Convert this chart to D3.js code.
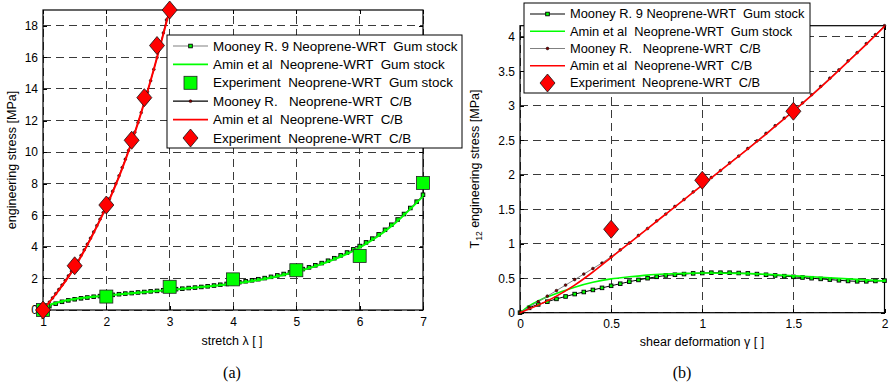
<!DOCTYPE html>
<html>
<head>
<meta charset="utf-8">
<script src="https://cdn.jsdelivr.net/npm/d3@7"></script>
<style>
  body { margin: 0; background: #fff; }
  svg { display: block; font-family: "Liberation Sans", Arial, sans-serif; }
  .grid line { stroke: #3a3a3a; stroke-dasharray: 8,5; stroke-width: 1; shape-rendering: crispEdges; }
  .tick text { font-size: 12px; fill: #000; }
  .tick line { stroke: #000; shape-rendering: crispEdges; }
  .domain { display: none; }
  .leg text { white-space: pre; }
</style>
</head>
<body>
<div id="chart"></div>
<script>
// ---- (a) uniaxial tension ----
var lamGumMR = [1.0,1.1,1.2,1.3,1.4,1.5,1.6,1.7,1.8,1.9,2.0,2.1,2.2,2.3,2.4,2.5,2.6,2.7,2.8,2.9,3.0,3.1,3.2,3.3,3.4,3.5,3.6,3.7,3.8,3.9,4.0,4.1,4.2,4.3,4.4,4.5,4.6,4.7,4.8,4.9,5.0,5.1,5.2,5.3,5.4,5.5,5.6,5.7,5.8,5.9,6.0,6.1,6.2,6.3,6.4,6.5,6.6,6.7,6.8,6.9,7.0];
var sigGumMR = [0,0.24,0.4,0.52,0.61,0.68,0.74,0.79,0.84,0.88,0.92,0.96,1.0,1.04,1.07,1.11,1.14,1.18,1.21,1.25,1.29,1.32,1.35,1.39,1.42,1.46,1.5,1.55,1.6,1.65,1.7,1.76,1.82,1.88,1.95,2.02,2.1,2.19,2.28,2.38,2.48,2.59,2.7,2.83,2.97,3.12,3.28,3.46,3.64,3.84,4.05,4.28,4.52,4.79,5.08,5.4,5.73,6.08,6.46,6.86,7.3];
var lamGumAmin = [1,1.1,1.2,1.3,1.5,1.75,2,2.5,3,3.5,4,4.5,5,5.5,6,6.5,7];
var sigGumAmin = [0,0.3,0.45,0.56,0.7,0.82,0.92,1.1,1.27,1.45,1.66,1.97,2.42,3.05,3.95,5.3,7.2];
var lamGumExp = [1,2,3,4,5,6,7];
var sigGumExp = [0,0.85,1.47,1.94,2.52,3.42,8.05];
var lamCbMR = [1.0,1.05,1.1,1.15,1.2,1.25,1.3,1.35,1.4,1.45,1.5,1.55,1.6,1.65,1.7,1.75,1.8,1.85,1.9,1.95,2.0,2.05,2.1,2.15,2.2,2.25,2.3,2.35,2.4,2.45,2.5,2.55,2.6,2.65,2.7,2.75,2.8,2.85,2.9,2.95,3.0];
var sigCbMR = [0,0.25,0.5,0.76,1.03,1.3,1.58,1.87,2.16,2.45,2.75,3.1,3.45,3.8,4.17,4.55,4.94,5.34,5.75,6.17,6.6,7.05,7.52,8.0,8.5,9.02,9.55,10.1,10.67,11.26,11.87,12.5,13.15,13.82,14.52,15.24,15.99,16.76,17.55,18.37,19.0];
var lamCbAmin = [1,1.25,1.5,1.75,2,2.25,2.5,2.75,3];
var sigCbAmin = [0,1.25,2.7,4.5,6.55,8.95,11.85,15.25,19.0];
var lamCbExp = [1,1.5,2,2.4,2.6,2.8,3];
var sigCbExp = [0,2.8,6.65,10.75,13.45,16.75,19.0];
var ticksLam = [1,2,3,4,5,6,7];
var ticksSig = [0,2,4,6,8,10,12,14,16,18];

// ---- (b) simple shear ----
var gamGumMR = [0,0.05,0.1,0.15,0.2,0.25,0.3,0.35,0.4,0.45,0.5,0.55,0.6,0.65,0.7,0.75,0.8,0.85,0.9,0.95,1.0,1.05,1.1,1.15,1.2,1.25,1.3,1.35,1.4,1.45,1.5,1.55,1.6,1.65,1.7,1.75,1.8,1.85,1.9,1.95,2.0];
var tauGumMR = [0,0.07,0.12,0.16,0.2,0.235,0.27,0.3,0.33,0.36,0.39,0.42,0.45,0.475,0.5,0.52,0.54,0.55,0.56,0.57,0.575,0.58,0.58,0.58,0.575,0.57,0.56,0.55,0.54,0.53,0.52,0.51,0.5,0.49,0.48,0.47,0.46,0.455,0.455,0.46,0.465];
var gamGumAmin = [0,0.05,0.1,0.15,0.2,0.3,0.4,0.5,0.6,0.7,0.8,0.9,1.0,1.2,1.4,1.6,1.8,2.0];
var tauGumAmin = [0,0.1,0.17,0.23,0.28,0.37,0.44,0.49,0.52,0.545,0.56,0.57,0.575,0.57,0.55,0.52,0.49,0.46];
var gamCbMR = [0,0.05,0.1,0.15,0.2,0.25,0.3,0.35,0.4,0.45,0.5,0.55,0.6,0.65,0.7,0.75,0.8,0.85,0.9,0.95,1.0,1.05,1.1,1.15,1.2,1.25,1.3,1.35,1.4,1.45,1.5,1.55,1.6,1.65,1.7,1.75,1.8,1.85,1.9,1.95,2.0];
var tauCbMR = [0,0.08,0.16,0.24,0.32,0.4,0.48,0.56,0.64,0.72,0.81,0.91,1.01,1.12,1.22,1.33,1.43,1.54,1.64,1.75,1.85,1.96,2.06,2.17,2.27,2.38,2.49,2.6,2.71,2.82,2.93,3.04,3.16,3.28,3.4,3.52,3.65,3.77,3.9,4.03,4.16];
var gamCbAmin = [0,0.1,0.2,0.3,0.4,0.5,0.6,0.7,0.8,0.9,1.0,1.1,1.2,1.3,1.4,1.5,1.6,1.7,1.8,1.9,2.0];
var tauCbAmin = [0,0.11,0.24,0.4,0.59,0.8,1.01,1.22,1.43,1.64,1.85,2.06,2.27,2.48,2.7,2.92,3.15,3.39,3.64,3.89,4.15];
var gamCbExp = [0.5,1,1.5];
var tauCbExp = [1.21,1.92,2.92];
var ticksGam = [0,0.5,1,1.5,2];
var ticksTau = [0,0.5,1,1.5,2,2.5,3,3.5,4];

var svg = d3.select("#chart").append("svg").attr("width", 890).attr("height", 383);

function zip(xs, ys) { return xs.map(function(x, i) { return [x, ys[i]]; }); }

function drawFrame(x, y, tx, ty) {
    var x0 = x.range()[0], x1 = x.range()[1], y0 = y.range()[0], y1 = y.range()[1];
    var fmt = function(d) { return String(d); };
    var g = svg.append("g");
    var grid = g.append("g").attr("class", "grid");
    grid.selectAll(".gx").data(tx).enter().append("line")
        .attr("x1", d => x(d)).attr("x2", d => x(d)).attr("y1", y0).attr("y2", y1);
    grid.selectAll(".gy").data(ty).enter().append("line")
        .attr("y1", d => y(d)).attr("y2", d => y(d)).attr("x1", x0).attr("x2", x1);
    g.append("g").attr("transform", "translate(0," + y0 + ")")
        .call(d3.axisBottom(x).tickValues(tx).tickFormat(fmt).tickSize(-4).tickPadding(7));
    g.append("g").attr("transform", "translate(" + x0 + ",0)")
        .call(d3.axisLeft(y).tickValues(ty).tickFormat(fmt).tickSize(-4).tickPadding(5));
    g.append("g").attr("transform", "translate(0," + y1 + ")")
        .call(d3.axisTop(x).tickValues(tx).tickSize(-4).tickFormat(""));
    g.append("g").attr("transform", "translate(" + x1 + ",0)")
        .call(d3.axisRight(y).tickValues(ty).tickSize(-4).tickFormat(""));
    g.append("rect").attr("x", x0).attr("y", y1).attr("width", x1 - x0).attr("height", y0 - y1)
        .attr("fill", "none").attr("stroke", "#000").attr("stroke-width", 1.2);
}

function drawLine(x, y, pts, color, w) {
    svg.append("path").datum(pts)
        .attr("d", d3.line().x(d => x(d[0])).y(d => y(d[1])).curve(d3.curveMonotoneX))
        .attr("fill", "none").attr("stroke", color).attr("stroke-width", w);
}

var markers = {
    smallSq: function(g) { g.append("rect").attr("x", -1.8).attr("y", -1.8).attr("width", 3.6).attr("height", 3.6)
        .attr("fill", "#00ff00").attr("stroke", "#000").attr("stroke-width", 0.9); },
    dot: function(g) { g.append("circle").attr("r", 1.4).attr("fill", "#800000").attr("stroke", "#000").attr("stroke-width", 0.5); },
    bigSq: function(g) { g.append("rect").attr("x", -6.5).attr("y", -6.5).attr("width", 13).attr("height", 13)
        .attr("fill", "#00ff00").attr("stroke", "#222").attr("stroke-width", 0.8); },
    diamond: function(g) { g.append("path").attr("d", "M0,-9L7.5,0L0,9L-7.5,0Z")
        .attr("fill", "#ff0000").attr("stroke", "#111").attr("stroke-width", 0.8); }
};

function drawMarks(x, y, pts, kind) {
    svg.append("g").selectAll("g").data(pts).enter().append("g")
        .attr("transform", d => "translate(" + x(d[0]) + "," + y(d[1]) + ")")
        .each(function() { markers[kind](d3.select(this)); });
}

function drawLegend(box, items, fs) {
    var g = svg.append("g").attr("class", "leg");
    g.append("rect").attr("x", box.x).attr("y", box.y).attr("width", box.w).attr("height", box.h)
        .attr("fill", "#fff").attr("stroke", "#000").attr("stroke-width", 1);
    items.forEach(function(it, i) {
        var cy = box.row0 + i * box.dy;
        var lx0 = box.x + 6, lx1 = box.x + 41, mx = (lx0 + lx1) / 2;
        if (it.line) g.append("line").attr("x1", lx0).attr("x2", lx1).attr("y1", cy).attr("y2", cy)
            .attr("stroke", it.line).attr("stroke-width", it.lw || 1.2);
        if (it.mark) markers[it.mark](g.append("g").attr("transform", "translate(" + mx + "," + cy + ")"));
        g.append("text").attr("x", box.x + 46).attr("y", cy).attr("dy", "0.35em")
            .style("font-size", fs + "px").text(it.label);
    });
}

// ---------- panel (a) ----------
var xA = d3.scaleLinear().domain([1, 7]).range([43, 423]);
var yA = d3.scaleLinear().domain([0, 19]).range([310, 10]);
drawFrame(xA, yA, ticksLam, ticksSig);

drawLine(xA, yA, zip(lamGumMR, sigGumMR), "#808080", 1);
drawMarks(xA, yA, zip(lamGumMR, sigGumMR), "smallSq");
drawLine(xA, yA, zip(lamGumAmin, sigGumAmin), "#00ff00", 2);
drawMarks(xA, yA, zip(lamGumExp, sigGumExp), "bigSq");
drawLine(xA, yA, zip(lamCbMR, sigCbMR), "#000", 1);
drawMarks(xA, yA, zip(lamCbMR, sigCbMR), "dot");
drawLine(xA, yA, zip(lamCbAmin, sigCbAmin), "#ff0000", 2);
drawMarks(xA, yA, zip(lamCbExp, sigCbExp), "diamond");

drawLegend({x: 167, y: 35, w: 295, h: 113, row0: 46, dy: 18.4}, [
    {label: "Mooney R. 9 Neoprene-WRT  Gum stock", line: "#808080", mark: "smallSq"},
    {label: "Amin et al  Neoprene-WRT  Gum stock", line: "#00ff00", lw: 1.6},
    {label: "Experiment  Neoprene-WRT  Gum stock", mark: "bigSq"},
    {label: "Mooney R.   Neoprene-WRT  C/B", line: "#000", mark: "dot"},
    {label: "Amin et al  Neoprene-WRT  C/B", line: "#ff0000", lw: 1.6},
    {label: "Experiment  Neoprene-WRT  C/B", mark: "diamond"}
], 13.4);

svg.append("text").attr("x", 232).attr("y", 345).attr("text-anchor", "middle")
    .style("font-size", "12.5px").text("stretch \u03bb [ ]");
svg.append("text").attr("transform", "translate(16,160) rotate(-90)").attr("text-anchor", "middle")
    .style("font-size", "12.5px").text("engineering stress [MPa]");
svg.append("text").attr("x", 232).attr("y", 378).attr("text-anchor", "middle")
    .style("font-family", "'Liberation Serif', 'Times New Roman', serif").style("font-size", "16px").text("(a)");

// ---------- panel (b) ----------
var xB = d3.scaleLinear().domain([0, 2]).range([520, 884.5]);
var yB = d3.scaleLinear().domain([0, 4.16]).range([312.7, 25.7]);
drawFrame(xB, yB, ticksGam, ticksTau);

drawLine(xB, yB, zip(gamGumMR, tauGumMR), "#000", 1);
drawMarks(xB, yB, zip(gamGumMR, tauGumMR), "smallSq");
drawLine(xB, yB, zip(gamGumAmin, tauGumAmin), "#00ff00", 1.6);
drawLine(xB, yB, zip(gamCbMR, tauCbMR), "#808080", 1);
drawMarks(xB, yB, zip(gamCbMR, tauCbMR), "dot");
drawLine(xB, yB, zip(gamCbAmin, tauCbAmin), "#ff0000", 1.6);
drawMarks(xB, yB, zip(gamCbExp, tauCbExp), "diamond");

drawLegend({x: 524, y: 3, w: 286, h: 90, row0: 14, dy: 17.25}, [
    {label: "Mooney R. 9 Neoprene-WRT  Gum stock", line: "#000", mark: "smallSq"},
    {label: "Amin et al  Neoprene-WRT  Gum stock", line: "#00ff00", lw: 1.6},
    {label: "Mooney R.   Neoprene-WRT  C/B", line: "#808080", mark: "dot"},
    {label: "Amin et al  Neoprene-WRT  C/B", line: "#ff0000", lw: 1.6},
    {label: "Experiment  Neoprene-WRT  C/B", mark: "diamond"}
], 12.85);

svg.append("text").attr("x", 702).attr("y", 346).attr("text-anchor", "middle")
    .style("font-size", "12.5px").text("shear deformation \u03b3 [ ]");
var yl = svg.append("text").attr("transform", "translate(479,169) rotate(-90)").attr("text-anchor", "middle")
    .style("font-size", "12.5px");
yl.append("tspan").text("T");
yl.append("tspan").attr("dy", 3).style("font-size", "8.5px").text("12");
yl.append("tspan").attr("dy", -3).text(" engineering stress [MPa]");
svg.append("text").attr("x", 682).attr("y", 378).attr("text-anchor", "middle")
    .style("font-family", "'Liberation Serif', 'Times New Roman', serif").style("font-size", "16px").text("(b)");
</script>
</body>
</html>
